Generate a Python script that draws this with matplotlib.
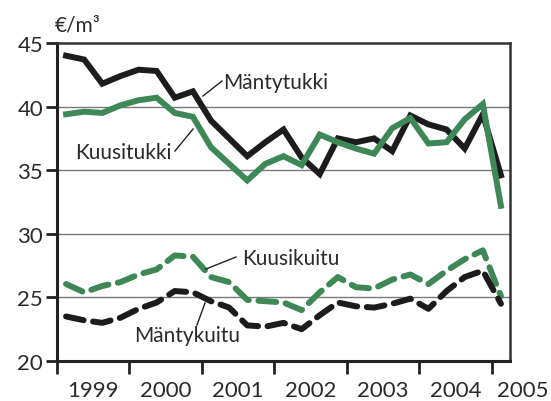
import matplotlib
matplotlib.use("Agg")
import matplotlib.pyplot as plt
import numpy as np

plt.rcParams['font.family'] = ['Lato', 'DejaVu Sans']

# Quarterly data, Q1 1999 .. Q1 2005
start_year = 1999
n_quarters = 25
mantytukki = [44.0, 43.7, 41.8, 42.4, 42.9, 42.8, 40.7, 41.2,
              38.9, 37.5, 36.1, 37.2, 38.2, 36.0, 34.7, 37.5,
              37.2, 37.5, 36.5, 39.3, 38.6, 38.2, 36.7, 39.4, 34.6]
kuusitukki = [39.4, 39.6, 39.5, 40.1, 40.5, 40.7, 39.5, 39.2,
              36.8, 35.5, 34.2, 35.5, 36.1, 35.4, 37.8, 37.2,
              36.7, 36.3, 38.3, 39.1, 37.1, 37.2, 39.0, 40.2, 32.2]
kuusikuitu = [26.05, 25.4, 25.9, 26.2, 26.8, 27.2, 28.3, 28.2,
              26.6, 26.2, 24.8, 24.7, 24.6, 24.0, 25.4, 26.6,
              25.8, 25.7, 26.4, 26.8, 26.05, 27.1, 28.0, 28.7, 25.1]
mantykuitu = [23.5, 23.2, 23.0, 23.4, 24.1, 24.6, 25.5, 25.4,
              24.7, 24.2, 22.8, 22.7, 23.0, 22.5, 23.6, 24.6,
              24.3, 24.2, 24.5, 24.9, 24.1, 25.5, 26.6, 27.1, 24.5]
years = ['1999', '2000', '2001', '2002', '2003', '2004', '2005']
yticks = [20, 25, 30, 35, 40, 45]

x = start_year + 0.125 + 0.25 * np.arange(n_quarters)

black = '#1c1c1c'
green = '#3e8757'
txtc = '#2a2a2a'

fig = plt.figure(figsize=(5.51, 4.02), dpi=100)
ax = fig.add_axes([57/551, 40/402, (510-57)/551, (362-44)/402])

lw = 4.3
ax.plot(x, mantytukki, color=black, lw=lw, solid_joinstyle='miter', zorder=4)
ax.plot(x, kuusitukki, color=green, lw=lw, solid_joinstyle='miter', zorder=5)
ax.plot(x, kuusikuitu, color=green, lw=lw, dashes=(3.0, 1.6), dash_capstyle='round', zorder=4)
ax.plot(x, mantykuitu, color=black, lw=lw, dashes=(3.0, 1.6), dash_capstyle='round', zorder=4)

ax.set_xlim(1999, 2005.25)
ax.set_ylim(20, 45)

for y in [25, 30, 35, 40]:
    ax.axhline(y, color='#7a7a7a', lw=1.0, zorder=1)

ax.set_yticks(yticks)
ax.set_yticklabels([str(v) for v in yticks], fontsize=16, color=txtc)
ax.tick_params(axis='y', direction='out', length=8, width=2, pad=2, color='#222222')

ax.set_xticks(list(range(1999, 2006)))
ax.set_xticklabels([])
ax.tick_params(axis='x', direction='out', length=9, width=2, color='#222222')
for i, yr in enumerate(years):
    xpos = min(int(yr) + 0.5, 2005.42)
    ax.text(xpos, -0.09, yr, transform=ax.get_xaxis_transform(),
            ha='center', va='center', fontsize=16, color=txtc, clip_on=False)

for s in ['left', 'bottom']:
    ax.spines[s].set_linewidth(2.2)
    ax.spines[s].set_color('#222222')
for s in ['top', 'right']:
    ax.spines[s].set_linewidth(1.8)
    ax.spines[s].set_color('#333333')

fig.text(78/551, 1 - 25/402, '€/m³', ha='center', va='center', fontsize=15, color=txtc)

def label(txt, tx, ty, x0, y0, x1, y1):
    # positions given in pixel coordinates of the figure
    fig.text(tx/551, 1 - ty/402, txt, ha='center', va='center', fontsize=15, color=txtc)
    fig.add_artist(plt.Line2D([x0/551, x1/551], [1 - y0/402, 1 - y1/402],
                              color='#222222', lw=1.0))

label('Mäntytukki', 276, 83, 222, 82, 203, 97)
label('Kuusitukki', 123, 153, 175, 152, 193, 130)
label('Kuusikuitu', 291, 259, 236, 258, 206, 270)
label('Mäntykuitu', 187, 336, 197, 326, 205, 304)

fig.savefig('out.png', dpi=100, facecolor='white')
